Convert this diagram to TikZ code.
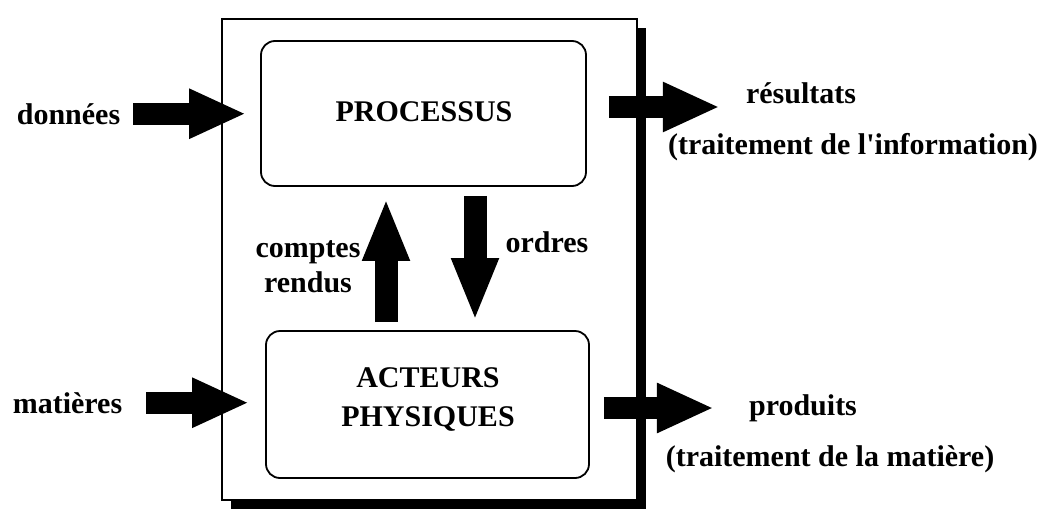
\documentclass[tikz,border=0pt]{standalone}
\usepackage{fontspec}
\setmainfont{Liberation Serif}
\usetikzlibrary{arrows.meta,shadows}
\begin{document}
\begin{tikzpicture}[x=1pt,y=-1pt,
  lbl/.style={font=\bfseries\fontsize{30}{36}\selectfont, anchor=base, inner sep=3pt},
  blk/.style={draw, line width=1.8pt, rounded corners=14pt, fill=white},
  hbig/.style={line width=22pt, -{Triangle[length=57pt,width=46pt]}},
  vbig/.style={line width=23pt, -{Triangle[length=63pt,width=43pt]}}]
\useasboundingbox (0,0) rectangle (1042,509);
% outer system box with shadow
\node[draw, line width=1.8pt, fill=white, minimum width=415pt, minimum height=481pt,
  drop shadow={shadow xshift=9pt, shadow yshift=-9pt, fill=black, opacity=1}] (sys) at (429.5,259.5) {};
% inner boxes
\node[blk, minimum width=325pt, minimum height=145pt] (proc) at (423.5,113.5) {};
\node[blk, minimum width=323pt, minimum height=147pt] (act) at (427.5,404.5) {};
% texts
\node[lbl] (tproc) at (424,121) {PROCESSUS};
\node[lbl] (tact1) at (428,387) {ACTEURS};
\node[lbl] (tact2) at (428,426) {PHYSIQUES};
\node[lbl] (donnees) at (68.5,124) {données};
\node[lbl] (matieres) at (67.5,413) {matières};
\node[lbl] (comptes) at (308,257) {comptes};
\node[lbl] (rendus) at (308,292) {rendus};
\node[lbl] (ordres) at (547,252) {ordres};
\node[lbl] (resultats) at (801,103) {résultats};
\node[lbl] (tinfo) at (853,154) {(traitement de l\textquotesingle information)};
\node[lbl] (produits) at (803,415) {produits};
\node[lbl] (tmat) at (830,466) {(traitement de la matière)};
% input arrows
\coordinate (ds) at ([xshift=10pt]donnees.east);
\draw[hbig, shorten >=14pt] (ds) -- (ds -| proc.west);
\coordinate (ms) at ([xshift=21pt]matieres.east);
\draw[hbig, shorten >=16pt] (ms) -- (ms -| act.west);
% output arrows
\coordinate (rs) at ([xshift=22pt,yshift=6.5pt]proc.east);
\draw[hbig, shorten >=23pt] (rs) -- (rs -| resultats.west);
\coordinate (ps) at ([xshift=14pt,yshift=-3.5pt]act.east);
\draw[hbig, shorten >=32pt] (ps) -- (ps -| produits.west);
% internal arrows
\coordinate (ua) at ([xshift=-41.5pt]act.north);
\draw[vbig, shorten <=8pt, shorten >=11pt] (ua) -- (ua |- proc.south);
\coordinate (da) at ([xshift=51.5pt]proc.south);
\draw[vbig, shorten <=9pt, shorten >=9pt] (da) -- (da |- act.north);
\end{tikzpicture}
\end{document}
